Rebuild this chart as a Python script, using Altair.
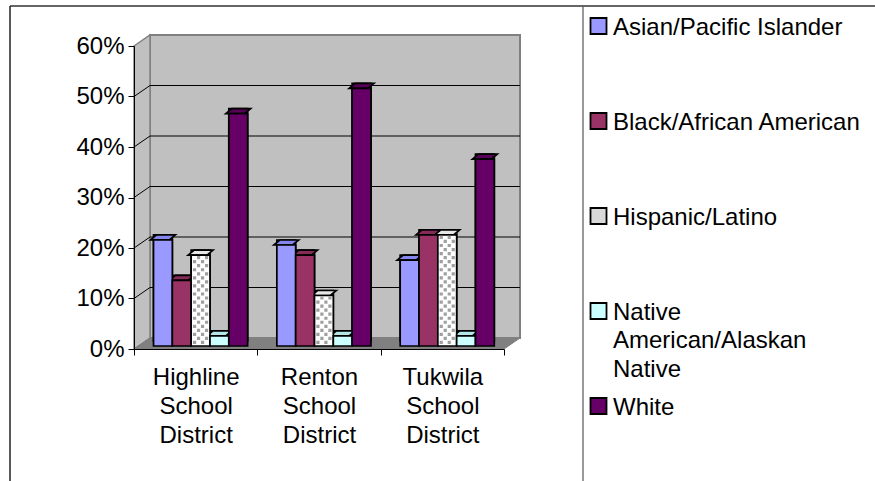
import altair as alt
import pandas as pd

# ---------------- data ----------------
districts = ["Highline School District", "Renton School District", "Tukwila School District"]
groups = ["Asian/Pacific Islander", "Black/African American", "Hispanic/Latino",
          "Native American/Alaskan Native", "White"]
asian = [0.21, 0.20, 0.17]
black = [0.13, 0.18, 0.22]
hispanic = [0.18, 0.10, 0.22]
native = [0.02, 0.02, 0.02]
white = [0.46, 0.51, 0.37]
y_ticks = [0.0, 0.1, 0.2, 0.3, 0.4, 0.5, 0.6]
legend_labels = ["Asian/Pacific Islander", "Black/African American", "Hispanic/Latino",
                 "Native\nAmerican/Alaskan\nNative", "White"]

# ---------------- style ----------------
front_colors = ["#9999FF", "#993366", "#FFFFFF", "#CCFFFF", "#660066"]
top_colors = ["#8585EE", "#842B58", "#E6E6E6", "#B3E6E6", "#580058"]
side_colors = ["#4D4D99", "#4D1A33", "#8C8C8C", "#669999", "#330033"]
swatch_colors = ["#9999FF", "#993366", "#D9D9D9", "#CCFFFF", "#660066"]
FONT = "Liberation Sans"
BAR_STROKE = 1.7

W, H = 370, 303
PAD = {"left": 134, "top": 46, "right": 875 - 134 - W, "bottom": 481 - 46 - H}
DX, DY = 16, 11          # wall depth
BDX, BDY = 6, 5          # bar depth
LIFT = 3                 # bars sit slightly behind the front edge
N = len(groups)
band = W / len(districts)
pad_outer, align = 0.776, 0.668
step = band / (N + 2 * pad_outer)

series = [asian, black, hispanic, native, white]
rows = []
for gi, g in enumerate(groups):
    for di, d in enumerate(districts):
        rows.append({"district": d, "group": g, "value": series[gi][di],
                     "top": top_colors[gi], "side": side_colors[gi]})
df = pd.DataFrame(rows)
ticks_df = pd.DataFrame({"v": y_ticks[1:-1]})
one = pd.DataFrame({"k": [0]})
leg_df = pd.DataFrame({"group": groups, "label": legend_labels, "swatch": swatch_colors})

# ---------------- encodings ----------------
xscale = alt.Scale(domain=districts, paddingInner=0, paddingOuter=0)
xaxis = alt.Axis(title=None, tickBand="extent", tickSize=6, tickColor="black", domainColor="black",
                 labelAngle=0, labelExpr="split(datum.label, ' ')", labelLineHeight=29,
                 labelPadding=10, labelFont=FONT, labelFontSize=24, labelColor="black", zindex=1)
X = alt.X("district:N", scale=xscale, axis=xaxis, sort=districts)
XO = alt.XOffset("group:N", sort=groups,
                 scale=alt.Scale(domain=groups, paddingInner=0, paddingOuter=pad_outer, align=align))
yscale = alt.Scale(domain=[0, 0.6], nice=False, zero=True)
yaxis = alt.Axis(title=None, values=y_ticks, format=".0%", tickSize=6, tickColor="black",
                 domainColor="black", grid=False, labelPadding=4, labelFont=FONT,
                 labelFontSize=24, labelColor="black", zindex=1)


def Y(field):
    return alt.Y(field, scale=yscale, axis=yaxis)


# ---------------- frame ----------------
frame_top = alt.Chart(one).mark_rule(color="#333333", strokeWidth=1.5).encode(
    x=alt.value(-124), x2=alt.value(741), y=alt.value(-40))
frame_left = alt.Chart(one).mark_rule(color="#222222", strokeWidth=1.5).encode(
    x=alt.value(-124), y=alt.value(-40), y2=alt.value(440))
frame_div = alt.Chart(one).mark_rule(color="#555555", strokeWidth=1.2).encode(
    x=alt.value(449), y=alt.value(-40), y2=alt.value(440))

# ---------------- walls ----------------
back_wall = alt.Chart(one).mark_rect(
    fill="#C0C0C0", stroke="#808080", strokeWidth=2,
    xOffset=DX, x2Offset=DX, yOffset=-DY, y2Offset=-DY).encode(
    x=alt.value(0), x2=alt.value(W), y=alt.YDatum(0.6, scale=yscale), y2=alt.Y2Datum(0))


def poly_path(pts):
    xs = [p[0] for p in pts]
    ys = [p[1] for p in pts]
    cx, cy = (min(xs) + max(xs)) / 2, (min(ys) + max(ys)) / 2
    s = max(max(xs) - min(xs), max(ys) - min(ys))
    h = s / 2
    d = "M" + "L".join(f"{(px - cx) / h:.4f},{(py - cy) / h:.4f}" for px, py in pts) + "Z"
    return d, cx, cy, s * s


side_path, scx, scy, ssize = poly_path([(0, 0), (DX, -DY), (DX, H - DY), (0, H)])
side_wall = alt.Chart(one).mark_point(
    shape=side_path, size=ssize, filled=True, fill="#C0C0C0", opacity=1,
    stroke="#808080", strokeWidth=1.5).encode(x=alt.value(scx), y=alt.value(scy))
floor_path, fcx, fcy, fsize = poly_path([(0, H), (W, H), (W + DX, H - DY), (DX, H - DY)])
floor = alt.Chart(one).mark_point(
    shape=floor_path, size=fsize, filled=True, fill="#808080", opacity=1,
    stroke="#808080", strokeWidth=1).encode(x=alt.value(fcx), y=alt.value(fcy))

grid_back = alt.Chart(ticks_df).mark_rule(
    color="black", strokeWidth=1, xOffset=DX, x2Offset=DX, yOffset=-DY).encode(
    x=alt.value(0), x2=alt.value(W), y=Y("v:Q"))
grid_side = alt.Chart(ticks_df).mark_rule(
    color="black", strokeWidth=1, y2Offset=-DY).encode(
    x=alt.value(0), x2=alt.value(DX), y=Y("v:Q"), y2=alt.Y2("v:Q"))

# ---------------- bars ----------------
base = alt.Chart(df)
bar_back = base.mark_bar(
    stroke="black", strokeWidth=BAR_STROKE, xOffset=BDX,
    yOffset=-(LIFT + BDY), y2Offset=-(LIFT + BDY)).encode(
    x=X, xOffset=XO, y=Y("value:Q"), y2=alt.Y2Datum(0), fill=alt.Fill("side:N", scale=None))

w = step
top_path = ("M" + "L".join(f"{px / ((w + BDX) / 2):.4f},{py / ((w + BDX) / 2):.4f}" for px, py in [
    (-(w + BDX) / 2, BDY / 2), ((w - BDX) / 2, BDY / 2), ((w + BDX) / 2, -BDY / 2),
    (-(w - BDX) / 2, -BDY / 2)]) + "Z")
bar_top = base.mark_point(
    shape=top_path, size=(w + BDX) ** 2, filled=True, opacity=1, stroke="black",
    strokeWidth=BAR_STROKE, xOffset=BDX / 2, yOffset=-(LIFT + BDY / 2)).encode(
    x=X, xOffset=XO, y=Y("value:Q"), fill=alt.Fill("top:N", scale=None))

bar_front = base.mark_bar(
    stroke="black", strokeWidth=BAR_STROKE, yOffset=-LIFT, y2Offset=-LIFT).encode(
    x=X, xOffset=XO, y=Y("value:Q"), y2=alt.Y2Datum(0),
    color=alt.Color("group:N", scale=alt.Scale(domain=groups, range=front_colors), legend=None))


# dotted texture of the Hispanic/Latino bars: a row of small squares, drawn as one symbol
def dot_row(centers, half=1.6, h=10.0):
    parts = []
    for c in centers:
        x0, x1 = (c - half) / h, (c + half) / h
        y0, y1 = -half / h, half / h
        parts.append(f"M{x0:.3f},{y0:.3f}L{x1:.3f},{y0:.3f}L{x1:.3f},{y1:.3f}L{x0:.3f},{y1:.3f}Z")
    return "".join(parts)


dots_base = base.transform_filter(alt.datum.group == "Hispanic/Latino").transform_calculate(
    d="sequence(0.007, datum.value - 0.003, 0.008)").transform_flatten(["d"]).transform_calculate(
    par="round((datum.d - 0.007) / 0.008) % 2")
dot_layers = []
for par, cols in ((0, (-6, 2)), (1, (-2, 6))):
    dot_layers.append(
        dots_base.transform_filter(f"datum.par == {par}").mark_point(
            shape=dot_row(cols), size=400, filled=True, fill="#A0A0A0", strokeWidth=0,
            opacity=1, yOffset=-LIFT).encode(x=X, xOffset=XO, y=Y("d:Q")))

plot = alt.layer(frame_top, frame_left, frame_div, back_wall, side_wall, floor, grid_back,
                 grid_side, bar_back, bar_top, bar_front, *dot_layers)

# ---------------- legend ----------------
LY = alt.Y("group:N", sort=groups, axis=None,
           scale=alt.Scale(domain=groups, range=[26 - PAD["top"], 406 - PAD["top"]], padding=0))
leg_sq = alt.Chart(leg_df).mark_square(size=16 * 16, filled=True, opacity=1, stroke="black",
                                       strokeWidth=1.8).encode(
    x=alt.value(598.5 - PAD["left"]), y=LY, fill=alt.Fill("swatch:N", scale=None))
leg_txt = alt.Chart(leg_df).mark_text(
    align="left", baseline="alphabetic", font=FONT, fontSize=24, color="black",
    lineBreak="\n", lineHeight=28.5, dy=8.5).encode(
    x=alt.value(613 - PAD["left"]), y=LY, text="label:N")
legend = alt.layer(leg_sq, leg_txt)

chart = alt.layer(plot, legend).resolve_scale(y="independent").properties(
    width=W, height=H, autosize=alt.AutoSizeParams(type="none"), padding=PAD,
    background="white").configure_view(stroke=None)

chart.save("out.html", embed_options={"renderer": "svg", "actions": False})
